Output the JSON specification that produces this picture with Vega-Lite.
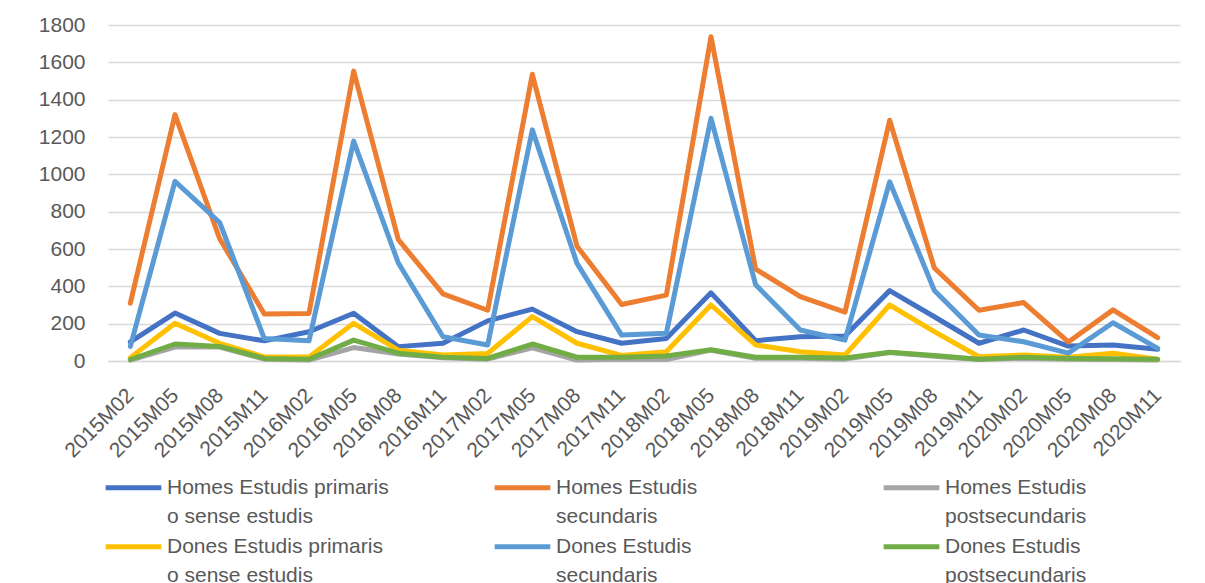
{
  "$schema": "https://vega.github.io/schema/vega-lite/v6.json",
  "width": 1072,
  "height": 336,
  "autosize": "none",
  "padding": {"left": 108, "top": 25, "right": 25, "bottom": 222},
  "background": "white",
  "config": {
    "view": {"stroke": null},
    "font": "Liberation Sans",
    "axis": {"labelColor": "#595959", "labelFontSize": 21, "labelFont": "Liberation Sans"},
    "legend": {
      "title": null, "orient": "none", "legendX": -5,
      "direction": "horizontal", "columns": 3, "gridAlign": "all",
      "symbolType": "stroke", "symbolSize": 3100, "symbolStrokeWidth": 5,
      "labelFontSize": 21, "labelColor": "#595959", "labelFont": "Liberation Sans",
      "labelOffset": 3, "labelLimit": 400
    }
  },
  "data": {
    "values": [
      {"t":"2015M02","s":"Homes Estudis primaris o sense estudis","v":103},
      {"t":"2015M05","s":"Homes Estudis primaris o sense estudis","v":257},
      {"t":"2015M08","s":"Homes Estudis primaris o sense estudis","v":148},
      {"t":"2015M11","s":"Homes Estudis primaris o sense estudis","v":108},
      {"t":"2016M02","s":"Homes Estudis primaris o sense estudis","v":157},
      {"t":"2016M05","s":"Homes Estudis primaris o sense estudis","v":256},
      {"t":"2016M08","s":"Homes Estudis primaris o sense estudis","v":77},
      {"t":"2016M11","s":"Homes Estudis primaris o sense estudis","v":95},
      {"t":"2017M02","s":"Homes Estudis primaris o sense estudis","v":215},
      {"t":"2017M05","s":"Homes Estudis primaris o sense estudis","v":278},
      {"t":"2017M08","s":"Homes Estudis primaris o sense estudis","v":157},
      {"t":"2017M11","s":"Homes Estudis primaris o sense estudis","v":95},
      {"t":"2018M02","s":"Homes Estudis primaris o sense estudis","v":121},
      {"t":"2018M05","s":"Homes Estudis primaris o sense estudis","v":365},
      {"t":"2018M08","s":"Homes Estudis primaris o sense estudis","v":109},
      {"t":"2018M11","s":"Homes Estudis primaris o sense estudis","v":130},
      {"t":"2019M02","s":"Homes Estudis primaris o sense estudis","v":134},
      {"t":"2019M05","s":"Homes Estudis primaris o sense estudis","v":377},
      {"t":"2019M08","s":"Homes Estudis primaris o sense estudis","v":237},
      {"t":"2019M11","s":"Homes Estudis primaris o sense estudis","v":95},
      {"t":"2020M02","s":"Homes Estudis primaris o sense estudis","v":166},
      {"t":"2020M05","s":"Homes Estudis primaris o sense estudis","v":80},
      {"t":"2020M08","s":"Homes Estudis primaris o sense estudis","v":86},
      {"t":"2020M11","s":"Homes Estudis primaris o sense estudis","v":63},

      {"t":"2015M02","s":"Homes Estudis secundaris","v":310},
      {"t":"2015M05","s":"Homes Estudis secundaris","v":1320},
      {"t":"2015M08","s":"Homes Estudis secundaris","v":655},
      {"t":"2015M11","s":"Homes Estudis secundaris","v":252},
      {"t":"2016M02","s":"Homes Estudis secundaris","v":255},
      {"t":"2016M05","s":"Homes Estudis secundaris","v":1553},
      {"t":"2016M08","s":"Homes Estudis secundaris","v":650},
      {"t":"2016M11","s":"Homes Estudis secundaris","v":360},
      {"t":"2017M02","s":"Homes Estudis secundaris","v":272},
      {"t":"2017M05","s":"Homes Estudis secundaris","v":1536},
      {"t":"2017M08","s":"Homes Estudis secundaris","v":615},
      {"t":"2017M11","s":"Homes Estudis secundaris","v":303},
      {"t":"2018M02","s":"Homes Estudis secundaris","v":353},
      {"t":"2018M05","s":"Homes Estudis secundaris","v":1737},
      {"t":"2018M08","s":"Homes Estudis secundaris","v":492},
      {"t":"2018M11","s":"Homes Estudis secundaris","v":345},
      {"t":"2019M02","s":"Homes Estudis secundaris","v":262},
      {"t":"2019M05","s":"Homes Estudis secundaris","v":1290},
      {"t":"2019M08","s":"Homes Estudis secundaris","v":498},
      {"t":"2019M11","s":"Homes Estudis secundaris","v":272},
      {"t":"2020M02","s":"Homes Estudis secundaris","v":313},
      {"t":"2020M05","s":"Homes Estudis secundaris","v":102},
      {"t":"2020M08","s":"Homes Estudis secundaris","v":274},
      {"t":"2020M11","s":"Homes Estudis secundaris","v":125},

      {"t":"2015M02","s":"Homes Estudis postsecundaris","v":5},
      {"t":"2015M05","s":"Homes Estudis postsecundaris","v":75},
      {"t":"2015M08","s":"Homes Estudis postsecundaris","v":75},
      {"t":"2015M11","s":"Homes Estudis postsecundaris","v":10},
      {"t":"2016M02","s":"Homes Estudis postsecundaris","v":5},
      {"t":"2016M05","s":"Homes Estudis postsecundaris","v":72},
      {"t":"2016M08","s":"Homes Estudis postsecundaris","v":38},
      {"t":"2016M11","s":"Homes Estudis postsecundaris","v":18},
      {"t":"2017M02","s":"Homes Estudis postsecundaris","v":10},
      {"t":"2017M05","s":"Homes Estudis postsecundaris","v":70},
      {"t":"2017M08","s":"Homes Estudis postsecundaris","v":5},
      {"t":"2017M11","s":"Homes Estudis postsecundaris","v":10},
      {"t":"2018M02","s":"Homes Estudis postsecundaris","v":8},
      {"t":"2018M05","s":"Homes Estudis postsecundaris","v":58},
      {"t":"2018M08","s":"Homes Estudis postsecundaris","v":15},
      {"t":"2018M11","s":"Homes Estudis postsecundaris","v":15},
      {"t":"2019M02","s":"Homes Estudis postsecundaris","v":10},
      {"t":"2019M05","s":"Homes Estudis postsecundaris","v":45},
      {"t":"2019M08","s":"Homes Estudis postsecundaris","v":25},
      {"t":"2019M11","s":"Homes Estudis postsecundaris","v":8},
      {"t":"2020M02","s":"Homes Estudis postsecundaris","v":15},
      {"t":"2020M05","s":"Homes Estudis postsecundaris","v":10},
      {"t":"2020M08","s":"Homes Estudis postsecundaris","v":8},
      {"t":"2020M11","s":"Homes Estudis postsecundaris","v":5},

      {"t":"2015M02","s":"Dones Estudis primaris o sense estudis","v":18},
      {"t":"2015M05","s":"Dones Estudis primaris o sense estudis","v":202},
      {"t":"2015M08","s":"Dones Estudis primaris o sense estudis","v":95},
      {"t":"2015M11","s":"Dones Estudis primaris o sense estudis","v":22},
      {"t":"2016M02","s":"Dones Estudis primaris o sense estudis","v":22},
      {"t":"2016M05","s":"Dones Estudis primaris o sense estudis","v":202},
      {"t":"2016M08","s":"Dones Estudis primaris o sense estudis","v":58},
      {"t":"2016M11","s":"Dones Estudis primaris o sense estudis","v":32},
      {"t":"2017M02","s":"Dones Estudis primaris o sense estudis","v":40},
      {"t":"2017M05","s":"Dones Estudis primaris o sense estudis","v":238},
      {"t":"2017M08","s":"Dones Estudis primaris o sense estudis","v":95},
      {"t":"2017M11","s":"Dones Estudis primaris o sense estudis","v":30},
      {"t":"2018M02","s":"Dones Estudis primaris o sense estudis","v":50},
      {"t":"2018M05","s":"Dones Estudis primaris o sense estudis","v":300},
      {"t":"2018M08","s":"Dones Estudis primaris o sense estudis","v":86},
      {"t":"2018M11","s":"Dones Estudis primaris o sense estudis","v":50},
      {"t":"2019M02","s":"Dones Estudis primaris o sense estudis","v":32},
      {"t":"2019M05","s":"Dones Estudis primaris o sense estudis","v":300},
      {"t":"2019M08","s":"Dones Estudis primaris o sense estudis","v":157},
      {"t":"2019M11","s":"Dones Estudis primaris o sense estudis","v":23},
      {"t":"2020M02","s":"Dones Estudis primaris o sense estudis","v":32},
      {"t":"2020M05","s":"Dones Estudis primaris o sense estudis","v":20},
      {"t":"2020M08","s":"Dones Estudis primaris o sense estudis","v":41},
      {"t":"2020M11","s":"Dones Estudis primaris o sense estudis","v":9},

      {"t":"2015M02","s":"Dones Estudis secundaris","v":78},
      {"t":"2015M05","s":"Dones Estudis secundaris","v":962},
      {"t":"2015M08","s":"Dones Estudis secundaris","v":742},
      {"t":"2015M11","s":"Dones Estudis secundaris","v":120},
      {"t":"2016M02","s":"Dones Estudis secundaris","v":108},
      {"t":"2016M05","s":"Dones Estudis secundaris","v":1178},
      {"t":"2016M08","s":"Dones Estudis secundaris","v":525},
      {"t":"2016M11","s":"Dones Estudis secundaris","v":130},
      {"t":"2017M02","s":"Dones Estudis secundaris","v":86},
      {"t":"2017M05","s":"Dones Estudis secundaris","v":1238},
      {"t":"2017M08","s":"Dones Estudis secundaris","v":523},
      {"t":"2017M11","s":"Dones Estudis secundaris","v":139},
      {"t":"2018M02","s":"Dones Estudis secundaris","v":148},
      {"t":"2018M05","s":"Dones Estudis secundaris","v":1300},
      {"t":"2018M08","s":"Dones Estudis secundaris","v":408},
      {"t":"2018M11","s":"Dones Estudis secundaris","v":166},
      {"t":"2019M02","s":"Dones Estudis secundaris","v":112},
      {"t":"2019M05","s":"Dones Estudis secundaris","v":960},
      {"t":"2019M08","s":"Dones Estudis secundaris","v":378},
      {"t":"2019M11","s":"Dones Estudis secundaris","v":139},
      {"t":"2020M02","s":"Dones Estudis secundaris","v":103},
      {"t":"2020M05","s":"Dones Estudis secundaris","v":42},
      {"t":"2020M08","s":"Dones Estudis secundaris","v":205},
      {"t":"2020M11","s":"Dones Estudis secundaris","v":68},

      {"t":"2015M02","s":"Dones Estudis postsecundaris","v":8},
      {"t":"2015M05","s":"Dones Estudis postsecundaris","v":91},
      {"t":"2015M08","s":"Dones Estudis postsecundaris","v":78},
      {"t":"2015M11","s":"Dones Estudis postsecundaris","v":14},
      {"t":"2016M02","s":"Dones Estudis postsecundaris","v":9},
      {"t":"2016M05","s":"Dones Estudis postsecundaris","v":112},
      {"t":"2016M08","s":"Dones Estudis postsecundaris","v":42},
      {"t":"2016M11","s":"Dones Estudis postsecundaris","v":20},
      {"t":"2017M02","s":"Dones Estudis postsecundaris","v":14},
      {"t":"2017M05","s":"Dones Estudis postsecundaris","v":91},
      {"t":"2017M08","s":"Dones Estudis postsecundaris","v":20},
      {"t":"2017M11","s":"Dones Estudis postsecundaris","v":20},
      {"t":"2018M02","s":"Dones Estudis postsecundaris","v":27},
      {"t":"2018M05","s":"Dones Estudis postsecundaris","v":60},
      {"t":"2018M08","s":"Dones Estudis postsecundaris","v":20},
      {"t":"2018M11","s":"Dones Estudis postsecundaris","v":20},
      {"t":"2019M02","s":"Dones Estudis postsecundaris","v":16},
      {"t":"2019M05","s":"Dones Estudis postsecundaris","v":47},
      {"t":"2019M08","s":"Dones Estudis postsecundaris","v":30},
      {"t":"2019M11","s":"Dones Estudis postsecundaris","v":9},
      {"t":"2020M02","s":"Dones Estudis postsecundaris","v":20},
      {"t":"2020M05","s":"Dones Estudis postsecundaris","v":14},
      {"t":"2020M08","s":"Dones Estudis postsecundaris","v":12},
      {"t":"2020M11","s":"Dones Estudis postsecundaris","v":10}
    ]
  },
  "encoding": {
    "x": {
      "field": "t", "type": "ordinal", "sort": null,
      "scale": {"type": "point", "padding": 0.5},
      "axis": {
        "title": null, "labelAngle": -45, "labelAlign": "right", "labelBaseline": "middle",
        "ticks": false, "tickSize": 0, "labelPadding": 31,
        "domain": true, "domainColor": "#D9D9D9", "domainWidth": 1.5,
        "grid": false
      }
    },
    "y": {
      "field": "v", "type": "quantitative",
      "scale": {"domain": [0, 1800], "nice": false},
      "axis": {
        "title": null, "values": [0,200,400,600,800,1000,1200,1400,1600,1800], "format": "d",
        "ticks": false, "tickSize": 0, "labelPadding": 23, "domain": false,
        "grid": true, "gridColor": "#D9D9D9", "gridWidth": 1.5
      }
    }
  },
  "layer": [
    {
      "transform": [{"filter": "indexof(datum.s, 'Homes') == 0"}],
      "mark": {"type": "line", "strokeWidth": 5, "strokeCap": "round", "strokeJoin": "round"},
      "encoding": {
        "color": {
          "field": "s", "type": "nominal",
          "scale": {
            "domain": ["Homes Estudis primaris o sense estudis","Homes Estudis secundaris","Homes Estudis postsecundaris"],
            "range": ["#4472C4","#ED7D31","#A5A5A5"]
          },
          "legend": {
            "legendY": 432, "columnPadding": 95,
            "labelExpr": "indexof(datum.label, ' o ') > 0 ? [substring(datum.label, 0, indexof(datum.label, ' o ')), substring(datum.label, indexof(datum.label, ' o ') + 1)] : [substring(datum.label, 0, lastindexof(datum.label, ' ')), substring(datum.label, lastindexof(datum.label, ' ') + 1)]",
            "encode": {"labels": {"update": {"lineHeight": {"value": 29}}}}
          }
        }
      }
    },
    {
      "transform": [{"filter": "indexof(datum.s, 'Dones') == 0"}],
      "mark": {"type": "line", "strokeWidth": 5, "strokeCap": "round", "strokeJoin": "round"},
      "encoding": {
        "color": {
          "field": "s", "type": "nominal",
          "scale": {
            "domain": ["Dones Estudis primaris o sense estudis","Dones Estudis secundaris","Dones Estudis postsecundaris"],
            "range": ["#FFC000","#5B9BD5","#70AD47"]
          },
          "legend": {
            "legendY": 491, "columnPadding": 101,
            "labelExpr": "indexof(datum.label, ' o ') > 0 ? [substring(datum.label, 0, indexof(datum.label, ' o ')), substring(datum.label, indexof(datum.label, ' o ') + 1)] : [substring(datum.label, 0, lastindexof(datum.label, ' ')), substring(datum.label, lastindexof(datum.label, ' ') + 1)]",
            "encode": {"labels": {"update": {"lineHeight": {"value": 29}}}}
          }
        }
      }
    }
  ],
  "resolve": {"scale": {"color": "independent"}, "legend": {"color": "independent"}}
}
